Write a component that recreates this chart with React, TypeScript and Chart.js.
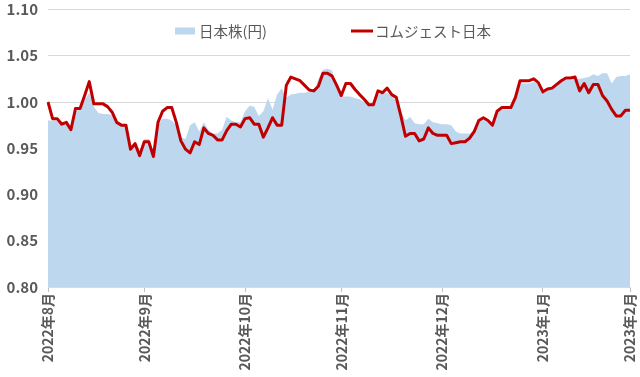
import React, { useEffect, useRef } from 'react';
import { Chart, registerables } from 'chart.js';

Chart.register(...registerables);

const FONT = "'Noto Sans CJK JP', 'Noto Sans', sans-serif";

const seriesNames = ['日本株(円)', 'コムジェスト日本'];

// 日本株(円) — light blue area
const nikkei = [
  0.980, 0.980, 0.980, 0.979, 0.976, 0.972, 0.990, 0.992, 1.002, 1.010,
  0.995, 0.988, 0.987, 0.987, 0.986, 0.978, 0.975, 0.975, 0.952, 0.957,
  0.947, 0.960, 0.960, 0.946, 0.975, 0.982, 0.982, 0.980, 0.975, 0.962,
  0.960, 0.975, 0.978, 0.968, 0.978, 0.970, 0.966, 0.966, 0.970, 0.984,
  0.980, 0.978, 0.978, 0.990, 0.996, 0.995, 0.985, 0.990, 1.004, 0.992,
  1.008, 1.015, 1.005, 1.008, 1.009, 1.010, 1.010, 1.011, 1.011, 1.025,
  1.035, 1.036, 1.034, 1.015, 1.006, 1.006, 1.006, 1.004, 1.003, 1.000,
  0.998, 0.999, 1.008, 1.009, 1.010, 1.006, 1.002, 0.990, 0.980, 0.984,
  0.977, 0.976, 0.976, 0.982, 0.978, 0.977, 0.976, 0.976, 0.975, 0.968,
  0.966, 0.966, 0.966, 0.970, 0.978, 0.981, 0.978, 0.974, 0.988, 0.992,
  0.992, 0.992, 1.003, 1.020, 1.020, 1.020, 1.022, 1.019, 1.010, 1.013,
  1.013, 1.018, 1.022, 1.024, 1.024, 1.025, 1.025, 1.026, 1.027, 1.030,
  1.028, 1.031, 1.031, 1.020, 1.027, 1.028, 1.028, 1.030,
];

// コムジェスト日本 — dark red line
const comgest = [
  1.000, 0.982, 0.982, 0.976, 0.978, 0.970, 0.993, 0.993, 1.007, 1.022,
  0.998, 0.998, 0.998, 0.995, 0.989, 0.978, 0.975, 0.975, 0.949, 0.955,
  0.942, 0.957, 0.957, 0.941, 0.978, 0.990, 0.994, 0.994, 0.978, 0.958,
  0.949, 0.945, 0.957, 0.954, 0.972, 0.966, 0.964, 0.959, 0.959, 0.969,
  0.976, 0.976, 0.973, 0.982, 0.983, 0.976, 0.976, 0.962, 0.972, 0.983,
  0.975, 0.975, 1.018, 1.027, 1.025, 1.023, 1.018, 1.013, 1.012, 1.017,
  1.031, 1.031, 1.028, 1.018, 1.007, 1.020, 1.020, 1.0135, 1.008, 1.003,
  0.997, 0.997, 1.012, 1.010, 1.015, 1.008, 1.005, 0.985, 0.963, 0.966,
  0.966, 0.958, 0.960, 0.972, 0.966, 0.964, 0.964, 0.964, 0.955, 0.956,
  0.957, 0.957, 0.961, 0.968, 0.980, 0.983, 0.980, 0.975, 0.990, 0.994,
  0.994, 0.994, 1.005, 1.023, 1.023, 1.023, 1.025, 1.021, 1.011, 1.014,
  1.015, 1.019, 1.023, 1.026, 1.026, 1.027, 1.012, 1.020, 1.010, 1.019,
  1.019, 1.007, 1.001, 0.992, 0.985, 0.985, 0.991, 0.991,
];

const monthTickLabels = ['2022年8月', '2022年9月', '2022年10月', '2022年11月', '2022年12月', '2023年1月', '2023年2月'];
const monthTickIndex = [0, 21, 43, 64, 86, 108, 127];

const yTickValues = [0.8, 0.85, 0.9, 0.95, 1.0, 1.05, 1.1];

const categories = nikkei.map((_, i) => String(i));

const BLUE = '#BDD7EE';
const RED = '#C00000';
const TEXT = '#595959';
const GRID = '#D9D9D9';

const legendPlugin = {
  id: 'excelLegend',
  afterDraw(chart: any) {
    const ctx = chart.ctx as CanvasRenderingContext2D;
    ctx.save();
    const y = 31;
    ctx.font = `14.5px ${FONT}`;
    ctx.textBaseline = 'middle';
    ctx.textAlign = 'left';
    ctx.fillStyle = BLUE;
    ctx.fillRect(175, y - 3.5, 20, 7);
    ctx.fillStyle = TEXT;
    ctx.fillText(seriesNames[0], 199, y);
    ctx.strokeStyle = RED;
    ctx.lineWidth = 3;
    ctx.beginPath();
    ctx.moveTo(351, y);
    ctx.lineTo(373, y);
    ctx.stroke();
    ctx.fillStyle = TEXT;
    ctx.fillText(seriesNames[1], 375, y);
    ctx.restore();
  },
};

export default function App() {
  const ref = useRef<HTMLCanvasElement>(null);
  useEffect(() => {
    document.body.style.margin = '0';
    const tickMap: Record<number, string> = {};
    monthTickIndex.forEach((idx, k) => (tickMap[idx] = monthTickLabels[k]));
    const chart = new Chart(ref.current as HTMLCanvasElement, {
      type: 'line',
      data: {
        labels: categories,
        datasets: [
          {
            label: seriesNames[0],
            data: nikkei,
            borderWidth: 0,
            borderColor: BLUE,
            backgroundColor: BLUE,
            fill: 'start',
            pointRadius: 0,
            tension: 0,
            order: 2,
          },
          {
            label: seriesNames[1],
            data: comgest,
            borderWidth: 3,
            borderColor: RED,
            backgroundColor: RED,
            fill: false,
            pointRadius: 0,
            tension: 0,
            order: 1,
            borderJoinStyle: 'round',
          },
        ],
      },
      options: {
        responsive: false,
        animation: false,
        layout: { padding: { top: 0, right: 2, left: 0, bottom: 0 } },
        plugins: {
          legend: { display: false },
          tooltip: { enabled: false },
        },
        scales: {
          x: {
            type: 'category',
            offset: false,
            afterFit: (s: any) => {
              s.height = 90;
              s.paddingRight = 10;
            },
            grid: {
              drawOnChartArea: false,
              drawTicks: true,
              tickLength: 5,
              tickColor: (c: any) => (tickMap[c.index] !== undefined ? '#BFBFBF' : 'rgba(0,0,0,0)'),
              color: (c: any) => (tickMap[c.index] !== undefined ? '#BFBFBF' : 'rgba(0,0,0,0)'),
            },
            border: { color: GRID },
            ticks: {
              autoSkip: false,
              maxRotation: 90,
              minRotation: 90,
              padding: 1,
              color: TEXT,
              font: { family: FONT, size: 14, weight: 'bold' },
              callback: (_v: any, idx: number) => (tickMap[idx] !== undefined ? tickMap[idx] : ''),
            },
          },
          y: {
            min: yTickValues[0],
            max: yTickValues[yTickValues.length - 1],
            afterFit: (s: any) => {
              s.width = 48;
              s.paddingTop = 9.5;
            },
            afterBuildTicks: (s: any) => {
              s.ticks = yTickValues.map((v) => ({ value: v }));
            },
            grid: { color: GRID, drawTicks: false },
            border: { display: false },
            ticks: {
              padding: 10,
              color: TEXT,
              font: { family: FONT, size: 15, weight: 'bold' },
              callback: (v: any) => Number(v).toFixed(2),
            },
          },
        },
      },
      plugins: [legendPlugin],
    });
    return () => chart.destroy();
  }, []);
  return (
    <div style={{ width: 640, height: 377, position: 'relative' }}>
      <canvas ref={ref} width={640} height={377} style={{ width: 640, height: 377, display: 'block' }} />
    </div>
  );
}
